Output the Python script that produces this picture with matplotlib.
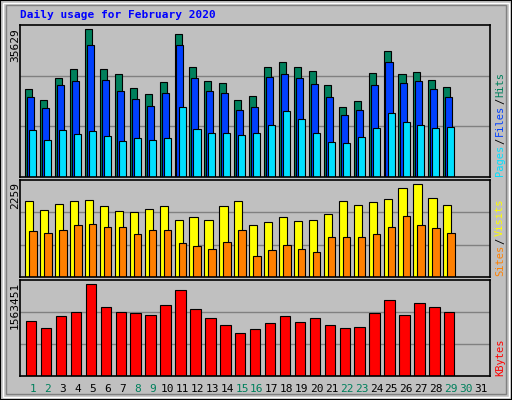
import numpy as np
import matplotlib
matplotlib.use("Agg")
from matplotlib import pyplot as plt
from matplotlib.patches import Rectangle

days = np.arange(1, 30)
hits = [21182, 18534, 23830, 25996, 35629, 25996, 24792, 21423, 19978, 22867, 34420, 26477, 23107, 22626, 18534,
        19497, 26477, 27681, 26477, 25514, 22144, 16849, 18293, 25033, 30328, 24792, 25274, 23348, 21663]
files = [19256, 16608, 22144, 23107, 31772, 23348, 20700, 18775, 17090, 20219, 31772, 23830, 20700, 20219, 16127,
         16849, 24070, 24792, 23830, 22385, 19256, 14923, 16127, 22144, 27681, 22626, 23107, 21182, 19256]
pages = [11313, 8906, 11313, 10350, 11072, 9869, 8665, 9387, 8906, 9387, 16849, 11554, 10591, 10591, 10109,
         10591, 12516, 15886, 13961, 10591, 8424, 8184, 9628, 11794, 15405, 13238, 12516, 11794, 12035]
visits = [1848, 1643, 1791, 1848, 1873, 1742, 1602, 1577, 1668, 1725, 1397, 1454, 1397, 1725, 1848,
          1273, 1331, 1454, 1355, 1380, 1544, 1848, 1766, 1824, 1889, 2161, 2259, 1914, 1766]
sites = [1109, 1084, 1134, 1273, 1298, 1208, 1208, 1060, 1134, 1134, 838, 764, 690, 863, 1134,
         518, 665, 789, 690, 616, 986, 986, 986, 1060, 1208, 1479, 1257, 1183, 1084]
kbytes = [932350, 812960, 1017630, 1085840, 1563451, 1171110, 1085840, 1068780, 1034670, 1205220, 1461050,
          1137000, 983510, 864120, 727680, 795900, 898230, 1017630, 915290, 983510, 864120, 812960, 830010,
          1068780, 1290500, 1034670, 1239330, 1171110, 1085840]
weekend = [1, 2, 8, 9, 15, 16, 22, 23, 29, 30]

BG = "#c0c0c0"
mono = "DejaVu Sans Mono"
fig = plt.figure(figsize=(5.12, 4), dpi=100, facecolor=BG)

# bevel frame
fig.add_artist(Rectangle((0, 0), 1, 1, transform=fig.transFigure, fill=False, ec="black", lw=1.5))
fig.add_artist(Rectangle((0.006, 0.008), 0.988, 0.985, transform=fig.transFigure, fill=False, ec="white", lw=1))
fig.add_artist(Rectangle((0.012, 0.015), 0.976, 0.972, transform=fig.transFigure, fill=False, ec="#808080", lw=1))

fig.text(20 / 512, 1 - 15 / 400, "Daily usage for February 2020", color="#0000ff",
         fontweight="bold", family=mono, fontsize=8, va="center")

xl = (1 - 13 / 14.93, 1 + 457 / 14.93)


def panel(bottom, height, ymax):
    ax = fig.add_axes([20 / 512, bottom, 470 / 512, height])
    ax.set_facecolor(BG)
    ax.set_xlim(*xl)
    ax.set_ylim(0, ymax)
    for f in (1 / 3, 2 / 3):
        ax.axhline(ymax * f, color="#808080", lw=1, zorder=0)
    ax.set_xticks([])
    ax.set_yticks([])
    for s in ax.spines.values():
        s.set_color("black")
        s.set_linewidth(1.2)
    return ax


ax1 = panel(223 / 400, 152 / 400, 35629 * 152 / 148)
ax1.bar(days - 0.52, hits, width=0.47, align="edge", color="#00805c", ec="black", lw=0.8)
ax1.bar(days - 0.39, files, width=0.47, align="edge", color="#0040ff", ec="black", lw=0.8)
ax1.bar(days - 0.25, pages, width=0.47, align="edge", color="#00e0ff", ec="black", lw=0.8)

ax2 = panel(123 / 400, 97 / 400, 2259 * 97 / 92.7)
ax2.bar(days - 0.52, visits, width=0.55, align="edge", color="#ffff00", ec="black", lw=0.8)
ax2.bar(days - 0.25, sites, width=0.5, align="edge", color="#ff8000", ec="black", lw=0.8)

ax3 = panel(24 / 400, 96 / 400, 1563451 * 96 / 92)
ax3.bar(days - 0.47, kbytes, width=0.7, align="edge", color="#ff0000", ec="black", lw=0.8)

# left max labels
fig.text(15 / 512, 1 - 28 / 400, "35629", rotation=90, ha="center", va="top", family=mono, fontsize=8)
fig.text(15 / 512, 1 - 182 / 400, "2259", rotation=90, ha="center", va="top", family=mono, fontsize=8)
fig.text(15 / 512, 1 - 282 / 400, "1563451", rotation=90, ha="center", va="top", family=mono, fontsize=8)

renderer = fig.canvas.get_renderer()


def right_label(y_bottom, parts):
    y = y_bottom
    for txt, col in parts:
        t = fig.text(500 / 512, y / 400, txt, rotation=90, ha="center", va="bottom",
                     family=mono, fontsize=7.5, color=col)
        y += t.get_window_extent(renderer).height + 1


right_label(400 - 176, [("Pages", "#00e0ff"), ("/", "black"), ("Files", "#0040ff"),
                        ("/", "black"), ("Hits", "#00805c")])
right_label(400 - 276, [("Sites", "#ff8000"), ("/", "black"), ("Visits", "#ffff00")])
right_label(400 - 376, [("KBytes", "#ff0000")])

# day labels
for d in range(1, 32):
    x = (33 + (d - 1) * 14.93) / 512
    fig.text(x, 1 - 389 / 400, str(d), ha="center", va="center", family=mono, fontsize=8,
             color="#00805c" if d in weekend else "black")

fig.savefig("out.png", dpi=100, facecolor=BG)
